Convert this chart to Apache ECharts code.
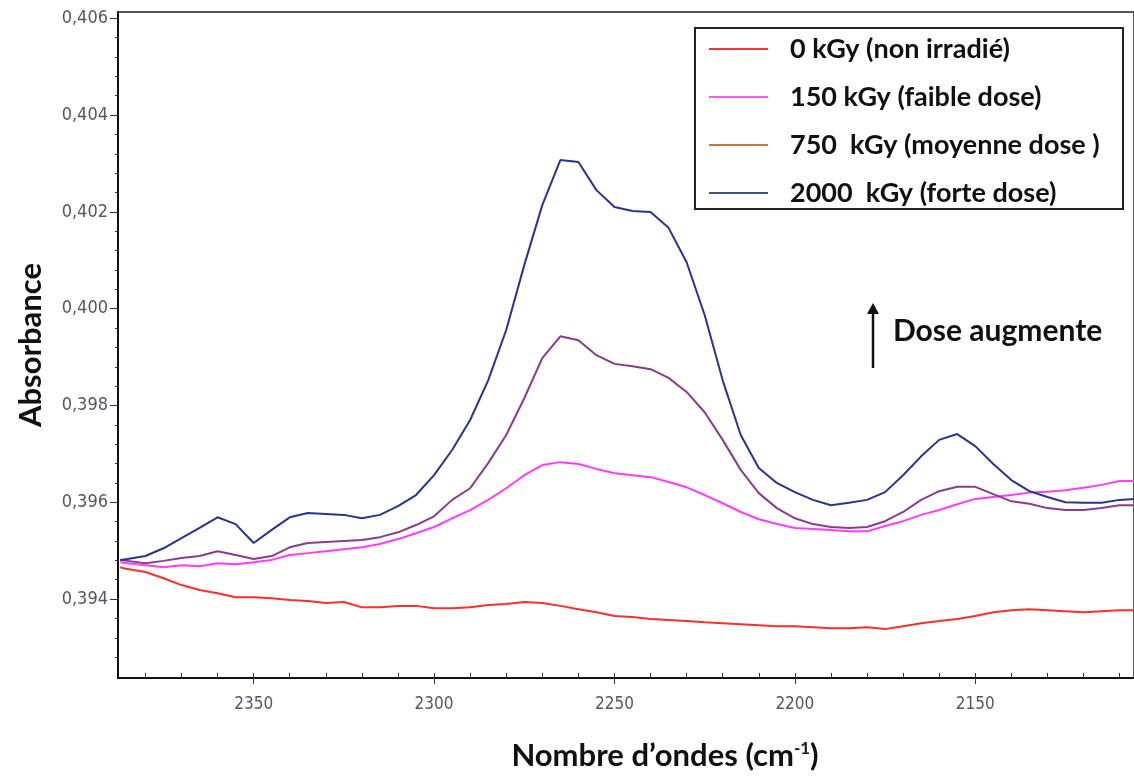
<!DOCTYPE html>
<html>
<head>
<meta charset="utf-8">
<script src="https://cdn.jsdelivr.net/npm/echarts@6/dist/echarts.min.js"></script>
<style>
html,body{margin:0;padding:0;background:#fff;}
#chart{width:1134px;height:776px;}
</style>
</head>
<body>
<div id="chart"></div>
<script>
// ---- data (wavenumber in cm-1, absorbance) ----
const wavenumbers = [2387,2385,2380,2375,2370,2365,2360,2355,2350,2345,2340,2335,2330,2325,2320,2315,2310,2305,2300,2295,2290,2285,2280,2275,2270,2265,2260,2255,2250,2245,2240,2235,2230,2225,2220,2215,2210,2205,2200,2195,2190,2185,2180,2175,2170,2165,2160,2155,2150,2145,2140,2135,2130,2125,2120,2115,2110,2105];

const abs0 = [0.39466,0.39462,0.39456,0.39443,0.39429,0.39419,0.39412,0.39404,0.39404,0.39402,0.39398,0.39396,0.39392,0.39394,0.39383,0.39383,0.39386,0.39386,0.39381,0.39381,0.39383,0.39388,0.39390,0.39394,0.39392,0.39386,0.39379,0.39373,0.39365,0.39363,0.39359,0.39357,0.39355,0.39352,0.39350,0.39348,0.39346,0.39344,0.39344,0.39342,0.39340,0.39340,0.39342,0.39338,0.39344,0.39350,0.39355,0.39359,0.39365,0.39373,0.39377,0.39379,0.39377,0.39375,0.39373,0.39375,0.39377,0.39377];

const abs150 = [0.39476,0.39474,0.39470,0.39466,0.39470,0.39468,0.39474,0.39472,0.39476,0.39481,0.39491,0.39495,0.39499,0.39503,0.39507,0.39514,0.39524,0.39536,0.39549,0.39567,0.39584,0.39605,0.39629,0.39656,0.39677,0.39683,0.39679,0.39669,0.39660,0.39656,0.39652,0.39642,0.39631,0.39615,0.39598,0.39580,0.39565,0.39555,0.39547,0.39545,0.39543,0.39540,0.39540,0.39551,0.39561,0.39574,0.39584,0.39596,0.39607,0.39611,0.39615,0.39620,0.39622,0.39625,0.39630,0.39636,0.39644,0.39644];

const abs750 = [0.39481,0.39479,0.39474,0.39479,0.39485,0.39489,0.39499,0.39491,0.39483,0.39489,0.39507,0.39516,0.39518,0.39520,0.39522,0.39528,0.39538,0.39553,0.39571,0.39605,0.39629,0.39681,0.39739,0.39815,0.39898,0.39943,0.39935,0.39904,0.39886,0.39881,0.39875,0.39857,0.39828,0.39786,0.39729,0.39667,0.39619,0.39588,0.39567,0.39555,0.39549,0.39547,0.39549,0.39561,0.39580,0.39605,0.39623,0.39632,0.39632,0.39617,0.39602,0.39597,0.39588,0.39584,0.39584,0.39588,0.39594,0.39594];

const abs2000 = [0.39481,0.39483,0.39489,0.39505,0.39526,0.39547,0.39569,0.39555,0.39516,0.39543,0.39569,0.39578,0.39576,0.39574,0.39567,0.39574,0.39592,0.39615,0.39656,0.39708,0.39770,0.39852,0.39956,0.40090,0.40214,0.40307,0.40303,0.40245,0.40210,0.40202,0.40200,0.40167,0.40096,0.39987,0.39852,0.39739,0.39671,0.39640,0.39621,0.39605,0.39594,0.39599,0.39605,0.39621,0.39656,0.39695,0.39729,0.39741,0.39716,0.39679,0.39646,0.39623,0.39611,0.39600,0.39599,0.39599,0.39605,0.39607];

const seriesNames = ['0 kGy (non irradié)', '150 kGy (faible dose)', '750  kGy (moyenne dose )', '2000  kGy (forte dose)'];

const yTicks = [0.394, 0.396, 0.398, 0.400, 0.402, 0.404, 0.406];
const yTickLabels = ['0,394', '0,396', '0,398', '0,400', '0,402', '0,404', '0,406'];
const xTicks = [2350, 2300, 2250, 2200, 2150];
const xTickLabels = ['2350', '2300', '2250', '2200', '2150'];

const xAxisName = 'Nombre d’ondes (cm{sup|-1})';
const yAxisName = 'Absorbance';
const annotationText = 'Dose augmente';

// ---- build ----
function zip(vals){ return wavenumbers.map((w,i)=>[w, vals[i]]); }

const xMinor = [];
for (let w = 2110; w <= 2380; w += 10) xMinor.push(w);
const yMinor = [];
for (let k = 0; k <= 34; k++) yMinor.push(+(0.3928 + k*0.0004).toFixed(4));

const lineColors = ['#ff2e2e', '#ff3cff', '#8a3c8c', '#2a348c'];
const legendColors = ['#ff3333', '#ff55ff', '#c8773a', '#3c5283'];
const allVals = [abs0, abs150, abs750, abs2000];

const narrow = "'Liberation Sans Narrow', 'DejaVu Sans Condensed', 'Liberation Sans', sans-serif";
const titleFont = "Lato, 'Open Sans', sans-serif";

const chart = echarts.init(document.getElementById('chart'));
chart.setOption({
  animation: false,
  backgroundColor: '#ffffff',
  grid: { left: 118, right: -2, top: 12, bottom: 98, show: true, borderColor: '#555', borderWidth: 2, backgroundColor: 'transparent' },
  legend: {
    orient: 'vertical', left: 704, top: 29,
    icon: 'rect', itemWidth: 59, itemHeight: 2, itemGap: 18,
    data: seriesNames.map((n,i)=>({ name: n, itemStyle: { color: legendColors[i] } })),
    textStyle: { fontFamily: titleFont, fontWeight: 'bold', fontSize: 27, color: '#111', lineHeight: 30, padding: [0,0,0,17] }
  },
  xAxis: [{
    type: 'value', min: 2106, max: 2387.6, inverse: true,
    name: xAxisName, nameLocation: 'middle', nameGap: 62,
    nameTextStyle: { fontFamily: titleFont, fontWeight: 'bold', fontSize: 31, color: '#111', padding: [0,0,0,78],
      rich: { sup: { fontFamily: titleFont, fontWeight: 'bold', fontSize: 17, color: '#111', verticalAlign: 'top', padding: [0,0,14,0] } } },
    axisLine: { show: true, lineStyle: { color: '#111', width: 2 } },
    axisTick: { show: true, inside: false, length: 6, customValues: xTicks, lineStyle: { color: '#333', width: 1 } },
    axisLabel: { show: true, customValues: xTicks, formatter: v => xTickLabels[xTicks.indexOf(v)] ?? '', fontFamily: narrow, fontSize: 17, color: '#555566', margin: 18 },
    splitLine: { show: false }
  }, {
    type: 'value', min: 2106, max: 2387.6, inverse: true, position: 'bottom', gridIndex: 0,
    axisLine: { show: false },
    axisTick: { show: true, inside: true, length: 5, customValues: xMinor, lineStyle: { color: '#333', width: 1 } },
    axisLabel: { show: false },
    splitLine: { show: false }
  }],
  yAxis: [{
    type: 'value', min: 0.39237, max: 0.40613,
    name: yAxisName, nameLocation: 'middle', nameGap: 72,
    nameTextStyle: { fontFamily: titleFont, fontWeight: 'bold', fontSize: 31, color: '#111' },
    axisLine: { show: true, lineStyle: { color: '#111', width: 2 } },
    axisTick: { show: true, inside: false, length: 8, customValues: yTicks, lineStyle: { color: '#333', width: 1 } },
    axisLabel: { show: true, customValues: yTicks, formatter: v => { const i = yTicks.findIndex(t => Math.abs(t - v) < 1e-7); return i >= 0 ? yTickLabels[i] : ''; }, fontFamily: narrow, fontSize: 18, color: '#555566', margin: 10 },
    splitLine: { show: false }
  }, {
    type: 'value', min: 0.39237, max: 0.40613, position: 'left', gridIndex: 0,
    axisLine: { show: false },
    axisTick: { show: true, inside: false, length: 3, customValues: yMinor, lineStyle: { color: '#333', width: 1 } },
    axisLabel: { show: false },
    splitLine: { show: false }
  }],
  series: allVals.map((vals, i) => ({
    name: seriesNames[i], type: 'line', xAxisIndex: 0, yAxisIndex: 0,
    data: zip(vals), symbol: 'none', smooth: false,
    lineStyle: { color: lineColors[i], width: 2 }, itemStyle: { color: lineColors[i] },
    clip: true
  })),
  graphic: [
    { type: 'rect', left: 694, top: 27, shape: { width: 428, height: 181 }, style: { fill: 'transparent', stroke: '#222', lineWidth: 2 }, z: 1 },
    { type: 'line', shape: { x1: 873, y1: 368, x2: 873, y2: 312 }, style: { stroke: '#111', lineWidth: 2.5 } },
    { type: 'polygon', shape: { points: [[867, 314], [879, 314], [873, 303]] }, style: { fill: '#111' } },
    { type: 'text', left: 893, top: 316, style: { text: annotationText, fontFamily: titleFont, fontWeight: 'bold', fontSize: 30, fill: '#111' } }
  ]
});
</script>
</body>
</html>
